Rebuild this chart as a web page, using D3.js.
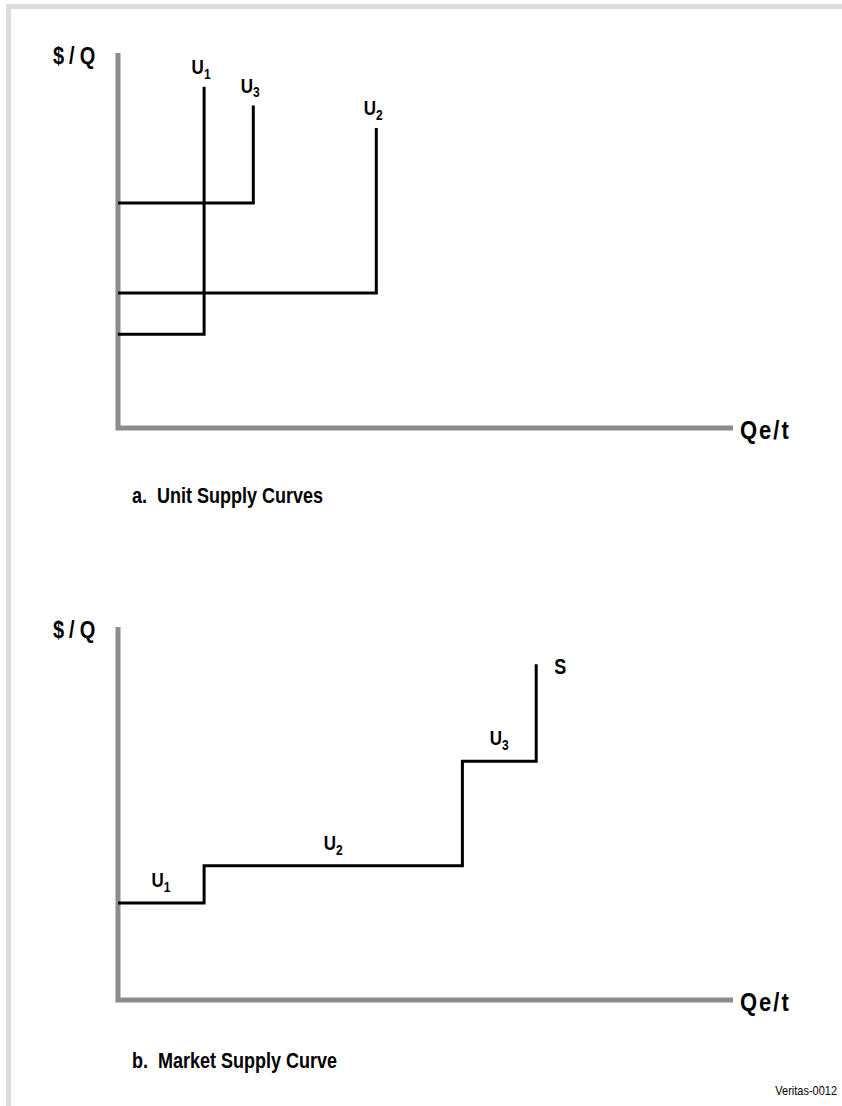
<!DOCTYPE html>
<html>
<head>
<meta charset="utf-8">
<script src="https://cdn.jsdelivr.net/npm/d3@7"></script>
<style>
  body { margin: 0; background: #fff; }
  text { font-family: "Liberation Sans", Arial, sans-serif; font-weight: bold; fill: #000; white-space: pre; }
</style>
</head>
<body>
<div id="chart"></div>
<script>
// unit supply curves: [name, sub, capacity (Q), price ($/Q), top of vertical]
const unitSubs = ['1', '3', '2'];
const unitCap = [14, 22, 42];
const unitPrice = [25, 60, 36];
const unitTop = [91, 86, 80];

// market supply steps (sorted by price)
const mktSubs = ['1', '2', '3'];
const mktCap = [14, 42, 12];
const mktPrice = [26, 36, 64];
const mktTop = 90;

const W = 842, H = 1106;
const svg = d3.select('#chart').append('svg')
    .attr('width', W)
    .attr('height', H);

// frame
svg.append('rect')
    .attr('x', 8.5).attr('y', 6.5)
    .attr('width', W + 20).attr('height', H + 20)
    .attr('fill', 'none')
    .attr('stroke', '#dcdcdc')
    .attr('stroke-width', 5);

// text is drawn a little taller than wide, like the original
function label(g, x, y, size) {
    return g.append('text')
        .attr('transform', `translate(${x},${y}) scale(1,1.2)`)
        .style('font-size', size + 'px');
}

function axes(g, x, y) {
    const x0 = x.range()[0], y0 = y.range()[0];
    g.append('path')
        .attr('d', d3.line()([[x0, y.range()[1]], [x0, y0], [x.range()[1], y0]]))
        .attr('fill', 'none')
        .attr('stroke', '#8c8c8c')
        .attr('stroke-width', 5);
    label(g, 53, y.range()[1] + 11, 20)
        .style('letter-spacing', '5px')
        .text('$/Q');
    label(g, x.range()[1] + 7, y0 + 11, 22)
        .style('letter-spacing', '2px')
        .text('Qe/t');
}

function ulabel(g, cx, by, sub) {
    const t = label(g, cx, by, 17).attr('text-anchor', 'middle');
    t.append('tspan').text('U');
    t.append('tspan').attr('dy', 4).style('font-size', '12px').text(sub);
}

// ---- panel a
const xa = d3.scaleLinear().domain([0, 100]).range([118, 733]);
const ya = d3.scaleLinear().domain([0, 100]).range([428, 53]);
const ga = svg.append('g');
axes(ga, xa, ya);

unitCap.forEach((c, i) => {
    ga.append('path')
        .attr('d', d3.line()([[xa(0), ya(unitPrice[i])], [xa(c), ya(unitPrice[i])], [xa(c), ya(unitTop[i])]]))
        .attr('fill', 'none')
        .attr('stroke', '#000')
        .attr('stroke-width', 3);
    ulabel(ga, xa(c) - 3, ya(unitTop[i]) - 13, unitSubs[i]);
});

label(ga, 132, 503, 18).text('a.  Unit Supply Curves');

// ---- panel b
const xb = d3.scaleLinear().domain([0, 100]).range([118, 733]);
const yb = d3.scaleLinear().domain([0, 100]).range([1000, 627]);
const gb = svg.append('g');
axes(gb, xb, yb);

const pts = [];
let q = 0;
mktCap.forEach((c, i) => {
    pts.push([xb(q), yb(mktPrice[i])]);
    ulabel(gb, xb(q + c / 2), yb(mktPrice[i]) - 16, mktSubs[i]);
    q += c;
    pts.push([xb(q), yb(mktPrice[i])]);
});
pts.push([xb(q), yb(mktTop)]);

gb.append('path')
    .attr('d', d3.line()(pts))
    .attr('fill', 'none')
    .attr('stroke', '#000')
    .attr('stroke-width', 3);

label(gb, xb(q) + 18, yb(mktTop) + 10, 18).text('S');

label(gb, 132, 1068, 18).text('b.  Market Supply Curve');

label(svg, 837, 1095, 11)
    .attr('text-anchor', 'end')
    .style('font-weight', 'normal')
    .text('Veritas-0012');
</script>
</body>
</html>
